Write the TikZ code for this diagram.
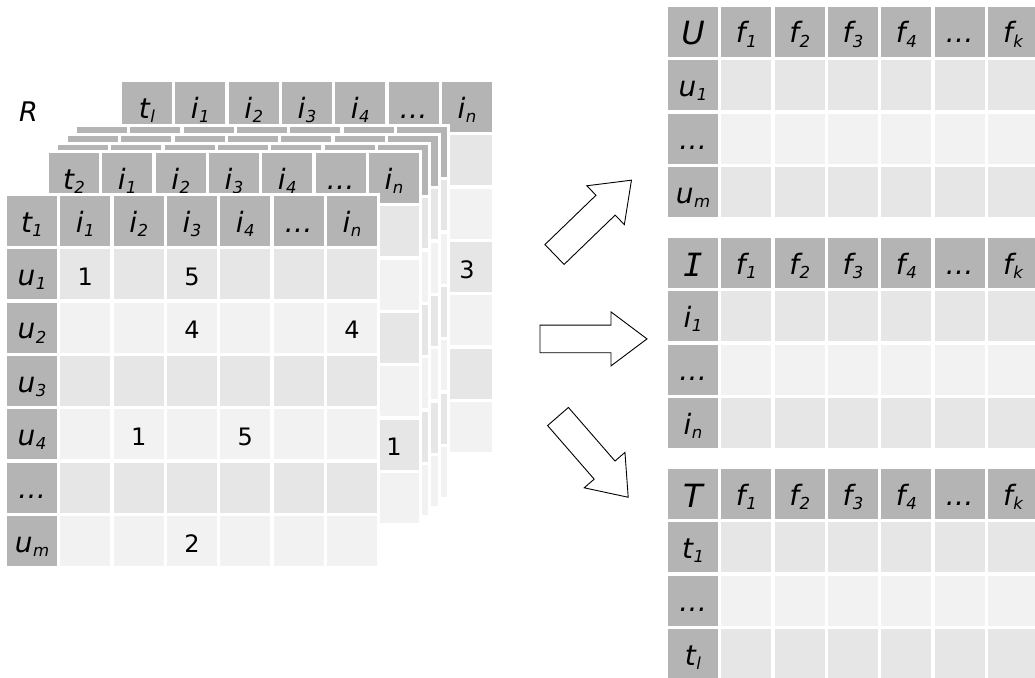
\documentclass[tikz,border=0pt]{standalone}
\usepackage{fontspec}
\setmainfont{DejaVu Sans}
\newfontfamily\monoI{DejaVu Sans Mono}
\definecolor{hdr}{HTML}{B4B4B4}
\definecolor{cA}{HTML}{E6E6E6}
\definecolor{cB}{HTML}{F2F2F2}
\newcommand\lb[2]{\itshape #1\kern0.5pt\raisebox{-4.5pt}{\fontsize{16.5}{16.5}\selectfont #2}}
\newcommand\ct[3][lbl]{\node[#1] (#2t) at (#2) {#3};}
% name, x, y, rows
\newcommand\layer[4]{%
  \fill[white] ({#2-3.3},{#3-3.3}) rectangle ({#2+373.3},{#3+(#4-1)*53.333+53.3});
  \foreach \r in {1,...,#4}{%
    \foreach \c in {1,...,7}{%
      \ifnum\r=1 \def\cc{hdr}\else\ifnum\c=1 \def\cc{hdr}\else\ifodd\r \def\cc{cB}\else\def\cc{cA}\fi\fi\fi
      \node[cell, fill=\cc] (#1-\r-\c) at ({#2+(\c-1)*53.333+25},{#3+(\r-1)*53.333+25}) {};
    }%
  }%
}
\newcommand\thead[2]{%
  \ct{#1-1-1}{\lb{t}{#2}}
  \ct{#1-1-2}{\lb{i}{1}}
  \ct{#1-1-3}{\lb{i}{2}}
  \ct{#1-1-4}{\lb{i}{3}}
  \ct{#1-1-5}{\lb{i}{4}}
  \ct{#1-1-6}{\itshape …}
  \ct{#1-1-7}{\lb{i}{n}}
}
\newcommand\fhead[2]{%
  \ct[big]{#1-1-1}{#2}
  \ct{#1-1-2}{\lb{f}{1}}
  \ct{#1-1-3}{\lb{f}{2}}
  \ct{#1-1-4}{\lb{f}{3}}
  \ct{#1-1-5}{\lb{f}{4}}
  \ct{#1-1-6}{\itshape …}
  \ct{#1-1-7}{\lb{f}{k}}
}
\tikzset{
  cell/.style={minimum size=50pt, inner sep=0pt, outer sep=0pt, draw=none},
  lbl/.style={inner sep=0pt, text height=22pt, text depth=0pt, font=\fontsize{28}{28}\selectfont, text=black},
  num/.style={inner sep=0pt, text height=22pt, text depth=0pt, font=\fontsize{24}{24}\selectfont, text=black},
  big/.style={inner sep=0pt, text height=26pt, text depth=0pt, font=\fontsize{32}{32}\selectfont\itshape, text=black},
  blockarrow/.style={draw=black, fill=white, line width=0.9pt, line join=miter},
}
\begin{document}
\begin{tikzpicture}[x=1pt,y=-1pt]
\useasboundingbox (0,0) rectangle (1035,677);
\clip (0,0) rectangle (1035,677);
\fill[white] (0,0) rectangle (1035,677);

\node[font=\fontsize{27}{27}\selectfont\itshape, inner sep=0pt, text=black] (R) at (28.5,111.5) {R};

% back layer (t_l)
\layer{B}{122}{82}{7}
\thead{B}{l}
\ct[num]{B-4-7}{3}
% intermediate layers
\layer{L5}{77}{127}{7}
\layer{L4}{68}{136}{7}
\layer{L3}{58}{145}{7}
% second layer
\layer{S}{49}{153}{7}
\thead{S}{2}
\ct[num]{S-6-7}{1}
% front layer
\layer{F}{7}{196}{7}
\thead{F}{1}
\ct{F-2-1}{\lb{u}{1}}
\ct{F-3-1}{\lb{u}{2}}
\ct{F-4-1}{\lb{u}{3}}
\ct{F-5-1}{\lb{u}{4}}
\ct{F-6-1}{\itshape …}
\ct{F-7-1}{\lb{u}{m}}
\ct[num]{F-2-2}{1}
\ct[num]{F-2-4}{5}
\ct[num]{F-3-4}{4}
\ct[num]{F-3-7}{4}
\ct[num]{F-5-3}{1}
\ct[num]{F-5-5}{5}
\ct[num]{F-7-4}{2}

% factor matrices
\layer{U}{668}{7}{4}
\fhead{U}{U}
\ct{U-2-1}{\lb{u}{1}}
\ct{U-3-1}{\itshape …}
\ct{U-4-1}{\lb{u}{m}}

\layer{I}{668}{238}{4}
\fhead{I}{{\monoI I}}
\ct{I-2-1}{\lb{i}{1}}
\ct{I-3-1}{\itshape …}
\ct{I-4-1}{\lb{i}{n}}

\layer{T}{668}{469}{4}
\fhead{T}{T}
\ct{T-2-1}{\lb{t}{1}}
\ct{T-3-1}{\itshape …}
\ct{T-4-1}{\lb{t}{l}}

% block arrows
\begin{scope}[shift={(554.5,254.5)}, rotate=44]
  \draw[blockarrow] (0,-13.8) -- (71,-13.8) -- (71,-27) -- (107,0) -- (71,27) -- (71,13.8) -- (0,13.8) -- cycle;
\end{scope}
\begin{scope}[shift={(540,338.9)}]
  \draw[blockarrow] (0,-13.8) -- (71,-13.8) -- (71,-27) -- (107,0) -- (71,27) -- (71,13.8) -- (0,13.8) -- cycle;
\end{scope}
\begin{scope}[shift={(558,416.5)}, rotate=-49]
  \draw[blockarrow] (0,-13.8) -- (71,-13.8) -- (71,-27) -- (107,0) -- (71,27) -- (71,13.8) -- (0,13.8) -- cycle;
\end{scope}
\end{tikzpicture}
\end{document}
